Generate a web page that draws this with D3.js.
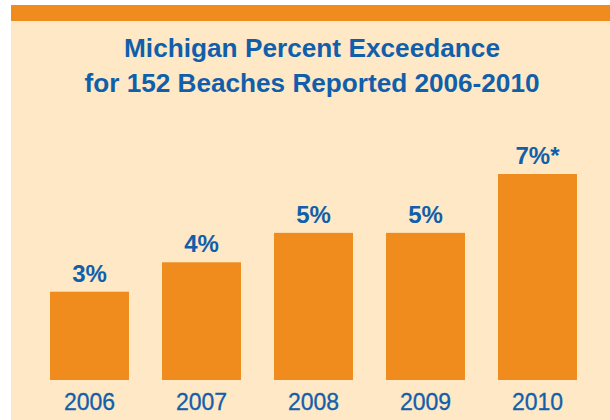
<!DOCTYPE html>
<html><head><meta charset="utf-8">
<script src="https://cdn.jsdelivr.net/npm/d3@7"></script>
<style>html,body{margin:0;padding:0;background:#fff;}svg{display:block;}</style>
</head><body>
<svg id="c" width="610" height="420"></svg>
<script>
const titleLines = ["Michigan Percent Exceedance", "for 152 Beaches Reported 2006-2010"];
const years = ["2006", "2007", "2008", "2009", "2010"];
const values = [3, 4, 5, 5, 7];
const valueLabels = ["3%", "4%", "5%", "5%", "7%*"];

const blue = "#115fab", orange = "#f08c1e", peach = "#fee8c6";
const svg = d3.select("#c");
svg.append("rect").attr("x", 11).attr("y", 5).attr("width", 599).attr("height", 415).attr("fill", peach);
svg.append("rect").attr("x", 11).attr("y", 5).attr("width", 599).attr("height", 16).attr("fill", orange);

const title = svg.append("g");
const tl = [376, 455];
titleLines.forEach((t, i) => {
  title.append("text").attr("x", 312).attr("y", 57 + i * 35)
    .attr("text-anchor", "middle")
    .attr("font-family", "'Liberation Sans',Arial,sans-serif")
    .attr("font-weight", "bold").attr("font-size", 26.5).attr("fill", blue)
    .attr("textLength", tl[i]).attr("lengthAdjust", "spacingAndGlyphs")
    .text(t);
});

const x = d3.scaleBand().domain(years).range([33.5, 593.5]).paddingInner(0.295).paddingOuter(0.1475);
const y = d3.scaleLinear().domain([0, 7]).range([380, 174]);

svg.append("g").selectAll("rect").data(values).join("rect")
  .attr("x", (d, i) => x(years[i])).attr("width", x.bandwidth())
  .attr("y", d => y(d)).attr("height", d => y(0) - y(d)).attr("fill", orange);

svg.append("g").selectAll("text").data(values).join("text")
  .attr("x", (d, i) => x(years[i]) + x.bandwidth() / 2)
  .attr("y", d => y(d) - 10)
  .attr("text-anchor", "middle").attr("font-family", "'Liberation Sans',Arial,sans-serif")
  .attr("font-weight", "bold").attr("font-size", 24).attr("fill", blue)
  .text((d, i) => valueLabels[i]);

const xAxis = svg.append("g").attr("transform", "translate(0,380)").call(d3.axisBottom(x).tickSize(0).tickPadding(30));
xAxis.select(".domain").remove();
xAxis.selectAll("text").attr("font-family", "'Liberation Sans',Arial,sans-serif")
  .attr("font-size", 23).attr("fill", blue).attr("stroke", blue).attr("stroke-width", 0.3)
  .attr("dy", null).attr("y", 30);
</script>
</body></html>
